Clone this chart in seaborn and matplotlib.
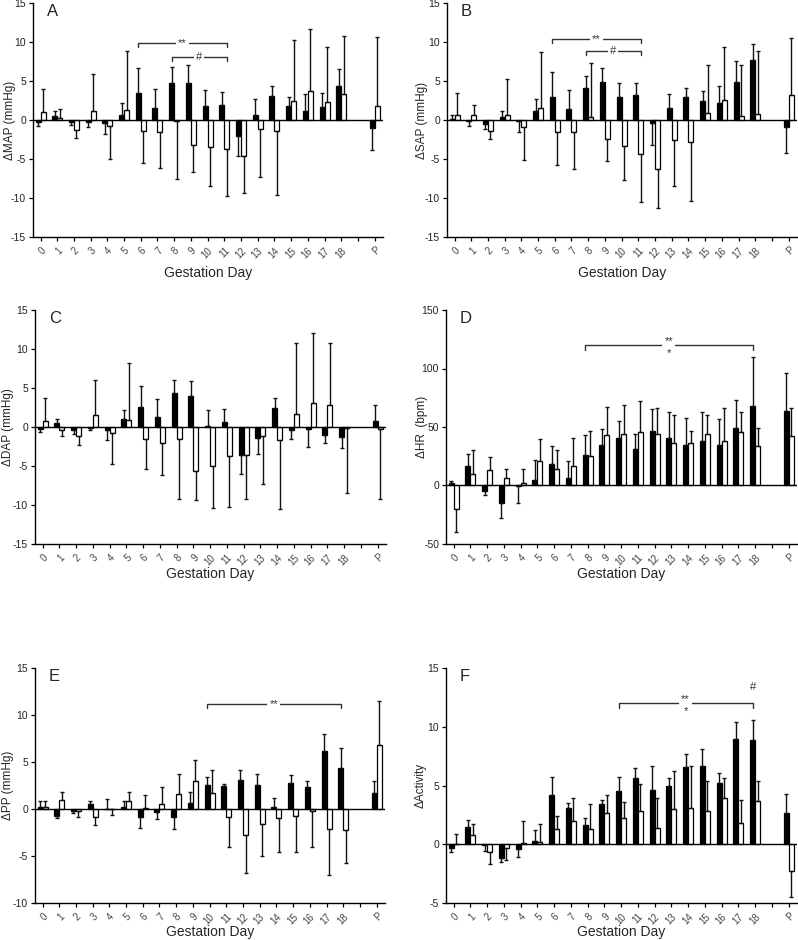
import numpy as np
import pandas as pd
import matplotlib
matplotlib.use("Agg")
import matplotlib.pyplot as plt
import seaborn as sns

sns.set_theme(style="ticks")
plt.rcParams['font.family'] = ['Liberation Sans', 'DejaVu Sans']

# ---------------- data ----------------
day_labels = [str(d) for d in range(19)] + ['P']
day_pos = list(range(19)) + [20]
groups = ['Black', 'White']

# Panel A: MAP
map_black = [-0.2, 0.5, -0.3, -0.2, -0.4, 0.6, 3.4, 1.5, 4.8, 4.8, 1.8, 1.9, -2.0, 0.6, 3.1, 1.8, 1.2, 1.7, 4.4, -1.0]
map_black_end = [-0.8, 1.1, -0.7, -0.9, -1.8, 2.2, 6.7, 4.0, 6.8, 7.0, 3.9, 3.6, -4.6, 2.7, 4.3, 3.0, 3.3, 3.4, 6.6, -3.8]
map_white = [1.0, 0.3, -1.3, 1.2, -0.8, 1.3, -1.4, -1.5, -0.1, -3.2, -3.5, -3.7, -4.6, -1.1, -1.4, 2.5, 3.7, 2.3, 3.3, 1.8]
map_white_end = [4.0, 1.4, -2.3, 5.9, -5.0, 8.8, -5.5, -6.1, -7.6, -6.7, -8.4, -9.7, -9.3, -7.3, -9.6, 10.2, 11.7, 9.3, 10.8, 10.7]

# Panel B: SAP
sap_black = [0.1, -0.1, -0.5, 0.4, -0.1, 1.1, 2.9, 1.4, 4.1, 4.9, 3.0, 3.2, -0.4, 1.6, 2.9, 2.5, 2.2, 4.9, 7.7, -0.9]
sap_black_end = [0.6, -0.8, -1.1, 1.1, -1.5, 2.7, 6.2, 3.9, 5.6, 6.7, 4.8, 4.8, -3.2, 3.3, 4.1, 3.7, 4.3, 7.6, 9.8, -4.2]
sap_white = [0.6, 0.6, -1.4, 0.6, -0.9, 1.5, -1.6, -1.6, 0.4, -2.4, -3.3, -4.4, -6.3, -2.5, -2.8, 0.9, 2.6, 0.5, 0.8, 3.2]
sap_white_end = [3.5, 1.9, -2.4, 5.2, -5.1, 8.7, -5.8, -6.3, 7.3, -5.3, -7.7, -10.5, -11.3, -8.4, -10.4, 7.0, 9.3, 7.1, 8.8, 10.5]

# Panel C: DAP
dap_black = [-0.2, 0.5, -0.4, -0.1, -0.4, 1.0, 2.6, 1.3, 4.4, 4.0, 0.1, 0.7, -3.6, -1.4, 2.5, -0.4, -0.2, -1.0, -1.3, 0.8]
dap_black_end = [-0.7, 1.0, -0.9, -0.4, -1.7, 2.2, 5.3, 3.6, 6.0, 5.9, 2.2, 2.3, -6.0, -3.5, 3.7, -1.6, -2.6, -2.1, -2.7, 2.8]
dap_white = [0.8, -0.4, -1.2, 1.6, -0.8, 0.9, -1.6, -2.0, -1.5, -5.6, -5.0, -3.7, -3.6, -1.1, -1.7, 1.7, 3.1, 2.8, -0.1, -0.2]
dap_white_end = [3.7, -1.2, -2.3, 6.0, -4.7, 8.2, -5.4, -6.1, -9.2, -9.4, -10.4, -10.3, -9.2, -7.3, -10.5, 10.8, 12.1, 10.8, -8.5, -9.2]

# Panel D: HR
hr_black = [2, 17, -5, -15, -0.5, 5, 18, 6, 26, 35, 41, 31, 47, 41, 35, 38, 35, 49, 68, 64]
hr_black_end = [4, 27, -8, -28, -15, 22, 34, 21, 43, 48, 55, 44, 65, 63, 58, 63, 57, 73, 110, 96]
hr_white = [-20, 10, 13, 6, 2, 21, 14, 17, 25, 43, 44, 46, 44, 36, 36, 44, 38, 46, 34, 42]
hr_white_end = [-40, 30, 24, 14, 14, 40, 30, 41, 47, 67, 69, 72, 66, 60, 47, 60, 66, 63, 49, 66]

# Panel E: PP
pp_black = [0.2, -0.7, -0.2, 0.5, 0.05, 0.2, -0.8, -0.3, -0.8, 0.6, 2.6, 2.5, 3.1, 2.6, 0.2, 2.8, 2.3, 6.2, 4.4, 1.7]
pp_black_end = [0.8, -1.0, -0.4, 0.8, 1.1, 0.9, -2.0, -1.1, -2.1, 1.8, 3.4, 2.7, 4.1, 3.7, 1.2, 3.6, 3.0, 8.0, 6.5, 3.0]
pp_white = [0.2, 1.0, -0.2, -0.9, -0.05, 0.8, 0.1, 0.5, 1.6, 3.0, 1.7, -0.8, -2.8, -1.6, -1.0, -0.7, -0.2, -2.1, -2.2, 6.8]
pp_white_end = [0.9, 1.8, -0.9, -1.7, -0.6, 1.8, 1.5, 2.3, 3.7, 5.2, 4.2, -4.0, -6.8, -5.0, -4.6, -4.6, -4.0, -7.0, -5.7, 11.5]

# Panel F: Activity
act_black = [-0.3, 1.5, -0.1, -1.2, -0.4, 0.3, 4.2, 3.1, 1.6, 3.4, 4.5, 5.6, 4.6, 5.0, 6.6, 6.7, 5.2, 9.0, 8.9, 2.7]
act_black_end = [-0.7, 2.1, -0.6, -1.5, -1.1, 1.2, 5.7, 3.5, 2.2, 3.8, 5.7, 6.5, 6.7, 5.6, 7.7, 8.1, 6.1, 10.4, 10.6, 4.3]
act_white = [0.02, 0.8, -0.7, -0.3, 0.1, 0.2, 1.3, 2.0, 1.3, 2.7, 2.2, 2.8, 1.4, 3.0, 3.1, 2.8, 3.9, 1.8, 3.7, -2.3]
act_white_end = [0.9, 1.7, -1.7, -1.3, 2.0, 1.7, 2.4, 3.9, 3.4, 4.2, 3.6, 5.1, 3.9, 6.2, 6.7, 5.4, 5.6, 3.8, 5.4, -4.5]

panels = [
    dict(letter='A', ylabel='\u0394MAP (mmHg)', ylim=(-15, 15), yticks=[-15, -10, -5, 0, 5, 10, 15],
         b=map_black, be=map_black_end, w=map_white, we=map_white_end,
         brackets=[(6, -0.15, 11, 0.15, 9.9, 0.5, '**', None), (8, -0.15, 11, 0.15, 8.1, 0.5, '#', None)],
         rect=(33, 3, 350, 234), ylab_dx=-17, xlab_pad=4),
    dict(letter='B', ylabel='\u0394SAP (mmHg)', ylim=(-15, 15), yticks=[-15, -10, -5, 0, 5, 10, 15],
         b=sap_black, be=sap_black_end, w=sap_white, we=sap_white_end,
         brackets=[(6, -0.15, 11, 0.15, 10.4, 0.5, '**', None), (8, -0.15, 11, 0.15, 8.85, 0.5, '#', None)],
         rect=(447, 3, 350, 234), ylab_dx=-19, xlab_pad=4),
    dict(letter='C', ylabel='\u0394DAP (mmHg)', ylim=(-15, 15), yticks=[-15, -10, -5, 0, 5, 10, 15],
         b=dap_black, be=dap_black_end, w=dap_white, we=dap_white_end,
         brackets=[], rect=(35, 310, 351, 234), ylab_dx=-21, xlab_pad=0),
    dict(letter='D', ylabel='\u0394HR  (bpm)', ylim=(-50, 150), yticks=[-50, 0, 50, 100, 150],
         b=hr_black, be=hr_black_end, w=hr_white, we=hr_white_end,
         brackets=[(8, -0.15, 18, -0.15, 120, 4, '**', '*')],
         rect=(446, 310, 351, 234), ylab_dx=-18, xlab_pad=0),
    dict(letter='E', ylabel='\u0394PP (mmHg)', ylim=(-10, 15), yticks=[-10, -5, 0, 5, 10, 15],
         b=pp_black, be=pp_black_end, w=pp_white, we=pp_white_end,
         brackets=[(10, -0.15, 18, -0.15, 11.2, 0.45, '**', None)],
         rect=(35, 668, 350, 235), ylab_dx=-21, xlab_pad=-0.5),
    dict(letter='F', ylabel='\u0394Activity', ylim=(-5, 15), yticks=[-5, 0, 5, 10, 15],
         b=act_black, be=act_black_end, w=act_white, we=act_white_end,
         brackets=[(10, -0.15, 18, -0.15, 12.0, 0.4, '**', '*')],
         rect=(446, 668, 351, 235), ylab_dx=-19, xlab_pad=-0.5),
]

W, H = 798, 940
fig = plt.figure(figsize=(W / 100, H / 100), dpi=100)

for p in panels:
    l, t, w, h = p['rect']
    ax = fig.add_axes([l / W, 1 - (t + h) / H, w / W, h / H])
    df = pd.DataFrame({
        'pos': day_pos * 2,
        'group': [groups[0]] * len(day_pos) + [groups[1]] * len(day_pos),
        'value': p['b'] + p['w'],
    })
    sns.barplot(data=df, x='pos', y='value', hue='group', hue_order=groups,
                native_scale=True, palette={'Black': 'black', 'White': 'white'},
                edgecolor='black', linewidth=0.9, width=0.6, errorbar=None,
                legend=False, ax=ax, zorder=2)
    # one-sided error bars
    for means, ends, off in [(p['b'], p['be'], -0.15), (p['w'], p['we'], 0.15)]:
        m = np.array(means, float)
        e = np.array(ends, float)
        up = np.where(e > m, e - m, 0)
        lo = np.where(e < m, m - e, 0)
        ax.errorbar(np.array(day_pos) + off, m, yerr=[lo, up], fmt='none',
                    ecolor='#111111', elinewidth=1.0, capsize=1.6, capthick=1.0, zorder=3)
    ax.axhline(0, color='black', lw=1.0, zorder=4)
    ax.set_xlim(-0.45, 20.5)
    ax.set_ylim(*p['ylim'])
    ax.set_yticks(p['yticks'])
    ax.set_yticklabels([str(v) for v in p['yticks']], fontsize=7.5, color='#222222')
    ax.set_xticks(list(range(21)))
    labels = [day_labels[i] if i < 19 else '' for i in range(19)] + ['', 'P']
    ax.set_xticklabels(labels, rotation=45, ha='right', rotation_mode='anchor',
                       fontsize=7, color='#444444')
    ax.tick_params(axis='both', direction='out', length=3, width=0.9, color='black', pad=2)
    ax.tick_params(axis='x', pad=3)
    for s in ['top', 'right']:
        ax.spines[s].set_visible(False)
    for s in ['left', 'bottom']:
        ax.spines[s].set_linewidth(1.0)
        ax.spines[s].set_color('black')
    ax.set_xlabel('Gestation Day', fontsize=10, labelpad=p['xlab_pad'])
    ax.set_ylabel(p['ylabel'], fontsize=8.5)
    ax.yaxis.set_label_coords(p['ylab_dx'] / w, 0.5)
    ax.text(0.04, 0.995, p['letter'], transform=ax.transAxes, va='top', ha='left', fontsize=12)
    ax.set_facecolor('white')
    # significance brackets
    yr = p['ylim'][1] - p['ylim'][0]
    for (d1, o1, d2, o2, yb, drop, txt_top, txt_bot) in p['brackets']:
        x1, x2 = d1 + o1, d2 + o2
        ax.plot([x1, x1, x2, x2], [yb - drop, yb, yb, yb - drop], color='#333333', lw=1.0, zorder=5)
        xm = (x1 + x2) / 2
        if txt_bot is None:
            ax.text(xm, yb, txt_top, ha='center', va='center', fontsize=8, color='#333333',
                    bbox=dict(facecolor='white', edgecolor='none', pad=1.5), zorder=6)
        else:
            ax.text(xm, yb + 0.017 * yr, txt_top, ha='center', va='center', fontsize=8, color='#333333',
                    bbox=dict(facecolor='white', edgecolor='none', pad=1.5), zorder=6)
            ax.text(xm, yb - 0.035 * yr, txt_bot, ha='center', va='center', fontsize=8, color='#333333',
                    zorder=6)
    if p['letter'] == 'F':
        ax.text(18 - 0.15, 13.4, '#', ha='center', va='center', fontsize=8, color='#333333')

fig.savefig('out.png', dpi=100, facecolor='white')
